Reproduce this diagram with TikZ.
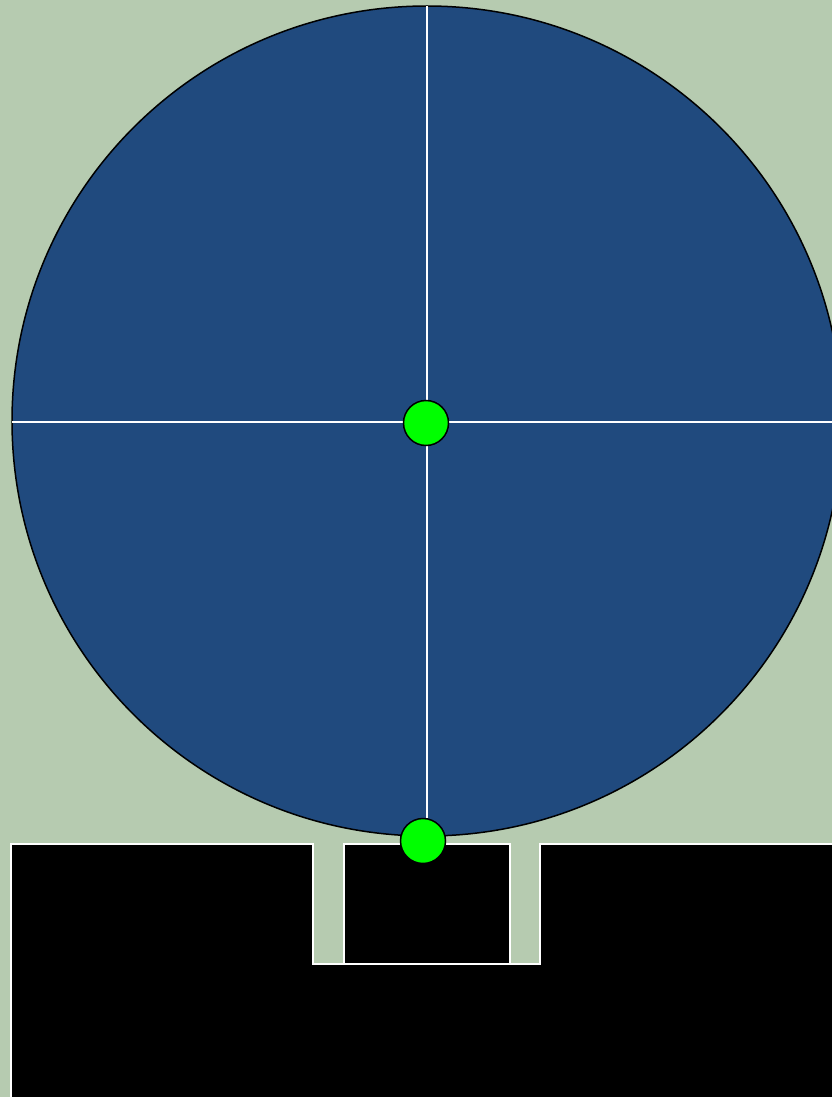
\documentclass[tikz,border=0pt]{standalone}
\usepackage{tikz}
\usetikzlibrary{positioning}
\definecolor{cSage}{RGB}{182,203,176}
\definecolor{cWheel}{RGB}{32,74,126}
\definecolor{cPin}{RGB}{0,255,0}
\tikzset{
	wheel/.style ={draw=black, line width=1.5pt, fill=cWheel},
	spoke/.style ={draw=white, line width=2pt},
	pivot/.style ={circle, draw=black, line width=1.5pt, fill=cPin, minimum size=45pt, inner sep=0pt},
	base/.style  ={draw=white, line width=2pt, fill=black},
}

\begin{document}
\begin{tikzpicture}[x=1pt, y=-1pt]
			\fill[cSage] (0,0) rectangle (832,1097);
			\useasboundingbox (0,0) rectangle (832,1097);
			\clip (0,0) rectangle (832,1097);
			% wheel and its cross hairs
			\filldraw[wheel] (427,421) circle (415);
			\coordinate (top) at (427,6);
			\coordinate (left) at (12,422);
			\coordinate (right) at (840,422);
			\coordinate (low) at (427,830);
			\draw[spoke] (left) -- (right);
			\draw[spoke] (top) -- (low);
			% base with slot
			\filldraw[base] (11,1105) -- (11,844) -- (313,844) -- (313,964) -- (540,964) -- (540,844) -- (845,844) -- (845,1105) -- cycle;
			\filldraw[base] (344,844) rectangle (510,964);
			\node[pivot] (hub) at (426,423) {};
			\node[pivot] (pin) at (423,841) {};
		\end{tikzpicture}
\end{document}
